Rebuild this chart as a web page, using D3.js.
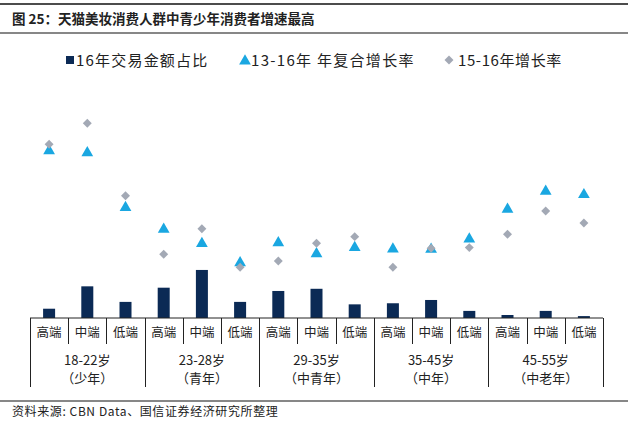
<!DOCTYPE html>
<html><head><meta charset="utf-8">
<script src="https://cdn.jsdelivr.net/npm/d3@7"></script>
<style>
body{margin:0;background:#fff;}
text{font-family:"Noto Sans CJK SC","Liberation Sans",sans-serif;}
</style></head>
<body><svg id="c" width="632" height="421"></svg>
<script>
const tiers = ["高端","中端","低端"];
const groups = ["18-22岁","23-28岁","29-35岁","35-45岁","45-55岁"];
const groupSub = ["（少年）","（青年）","（中青年）","（中年）","（中老年）"];
const share1516 = [3.4,11.6,5.9, 11.1,17.6,5.9, 9.9,10.7,5.0, 5.4,6.6,2.6, 1.1,2.6,0.7];
const cagr1316 = [92.9,91.8,61.3, 49.3,41.3,30.7, 41.8,35.7,39.1, 38.3,38.2,43.9, 60.4,70.4,68.5];
const growth1516 = [96.5,108.2,67.9, 35.4,49.6,28.2, 31.7,41.5,45.2, 28.2,38.7,39.1, 46.5,59.4,52.8];
const legendLabels = ["16年交易金额占比","13-16年 年复合增长率","15-16年增长率"];

const svg = d3.select("#c");
const C = {bar:"#0B2A55", tri:"#1AA7E1", dia:"#A3A9B5"};
const diamond = d3.symbol(d3.symbolSquare,40)();
// frame lines and title
svg.append("line").attr("x1",0).attr("x2",628).attr("y1",4).attr("y2",4).attr("stroke","#111").attr("stroke-width",1.5);
svg.append("line").attr("x1",0).attr("x2",628).attr("y1",33).attr("y2",33).attr("stroke","#111").attr("stroke-width",1.2);
svg.append("text").attr("x",12).attr("y",24).attr("font-size",13.5).attr("font-weight","bold").attr("fill","#222")
  .text("图 25：天猫美妆消费人群中青少年消费者增速最高");
svg.append("line").attr("x1",0).attr("x2",628).attr("y1",401).attr("y2",401).attr("stroke","#111").attr("stroke-width",1.2);
svg.append("text").attr("x",12).attr("y",416).attr("font-size",12).attr("letter-spacing",0.6).attr("fill","#222")
  .text("资料来源: CBN Data、国信证券经济研究所整理");

// legend
const lg = svg.append("g");
const legX = [66,240,445];
const legTextX = [76,251,458];
const legSpacing = [1.2,1.3,0.6];
lg.append("rect").attr("x",legX[0]).attr("y",56).attr("width",8).attr("height",8).attr("fill",C.bar);
lg.append("path").attr("d",d3.symbol(d3.symbolTriangle,60)()).attr("transform",`translate(${legX[1]+5},61)`).attr("fill",C.tri);
lg.append("path").attr("d",diamond).attr("transform",`translate(${legX[2]+4},60) rotate(45)`).attr("fill",C.dia);
legendLabels.forEach((t,i)=>{
  lg.append("text").attr("x",legTextX[i]).attr("y",66).attr("font-size",15).attr("letter-spacing",legSpacing[i])
    .attr("fill","#222").text(t);
});

// scales
const cats = d3.range(15);
const x = d3.scaleBand().domain(cats).range([30,603]).paddingInner(0).paddingOuter(0);
const y1 = d3.scaleLinear().domain([0,100]).range([318,45]);
const y2 = d3.scaleLinear().domain([0,150]).range([318,48]);

// bars
svg.append("g").selectAll("rect").data(share1516).join("rect")
  .attr("x",(d,i)=>x(i)+x.bandwidth()/2-6).attr("width",12)
  .attr("y",d=>y1(d)).attr("height",d=>318-y1(d)).attr("fill",C.bar);

// markers
svg.append("g").selectAll("path").data(cagr1316).join("path")
  .attr("d",d3.symbol(d3.symbolTriangle,60)())
  .attr("transform",(d,i)=>`translate(${x(i)+x.bandwidth()/2},${y2(d)})`).attr("fill",C.tri);
svg.append("g").selectAll("path").data(growth1516).join("path")
  .attr("d",diamond)
  .attr("transform",(d,i)=>`translate(${x(i)+x.bandwidth()/2},${y2(d)}) rotate(45)`).attr("fill",C.dia);

// axis
const ax = svg.append("g").attr("stroke","#222").attr("stroke-width",1);
ax.append("line").attr("x1",30).attr("x2",603).attr("y1",318).attr("y2",318);
cats.forEach(i=>{
  const xx = Math.round(x(i))+0.5;
  const long = i%3===0;
  ax.append("line").attr("x1",xx).attr("x2",xx).attr("y1",318).attr("y2",long?387:344);
});
ax.append("line").attr("x1",603.5).attr("x2",603.5).attr("y1",318).attr("y2",387);
svg.append("g").selectAll("text").data(cats).join("text")
  .attr("x",i=>x(i)+x.bandwidth()/2).attr("y",337).attr("text-anchor","middle").attr("font-size",12.5).attr("fill","#222")
  .text(i=>tiers[i%3]);
groups.forEach((g,k)=>{
  const cx = x(k*3) + x.bandwidth()*1.5;
  svg.append("text").attr("x",cx).attr("y",365).attr("text-anchor","middle").attr("font-size",13).attr("fill","#222").text(g);
  svg.append("text").attr("x",cx).attr("y",383).attr("text-anchor","middle").attr("font-size",13).attr("fill","#222").text(groupSub[k]);
});
</script></body></html>
